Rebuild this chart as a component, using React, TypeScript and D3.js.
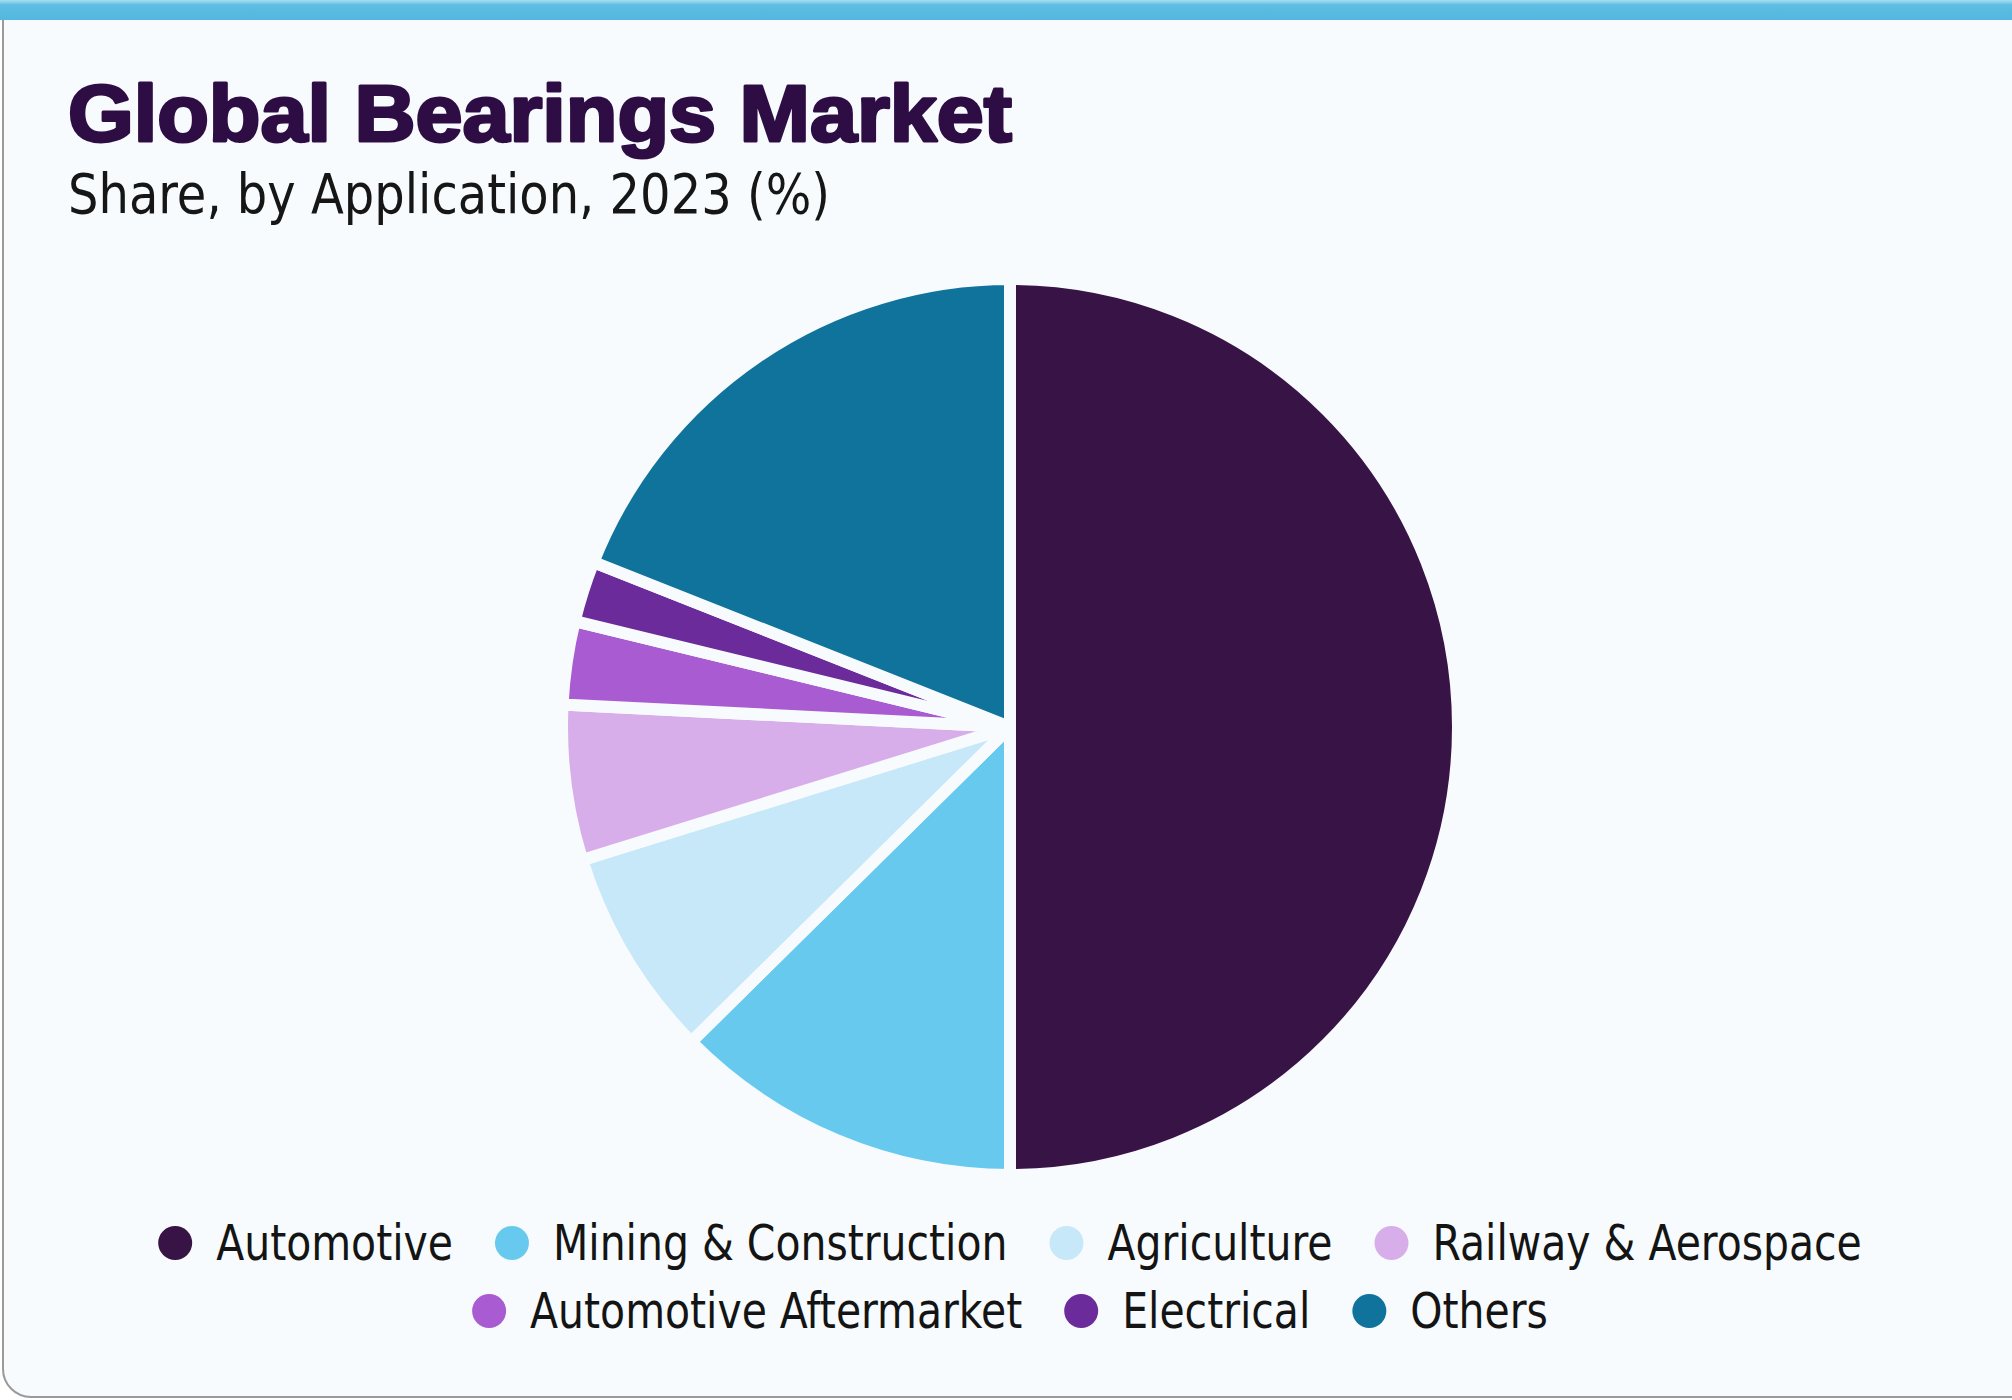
import React, { useEffect, useRef } from "react";
import * as d3 from "d3";

// Market share by application, 2023 (%)
const categories = [
  "Automotive",
  "Mining & Construction",
  "Agriculture",
  "Railway & Aerospace",
  "Automotive Aftermarket",
  "Electrical",
  "Others",
];
const shares = [50.0, 12.6, 7.6, 5.6, 3.0, 2.2, 19.0];
const sliceColors = ["#381346", "#68c9ef", "#c6e8f8", "#d8aeea", "#a95bd2", "#6c2b9a", "#10739b"];
const legendRows = [
  [0, 1, 2, 3],
  [4, 5, 6],
];

const W = 2012;
const H = 1400;

export default function App() {
  const ref = useRef<SVGSVGElement | null>(null);

  useEffect(() => {
    const svg = d3.select(ref.current);
    svg.selectAll("*").remove();

    const defs = svg.append("defs");
    const barGrad = defs
      .append("linearGradient")
      .attr("id", "topbar")
      .attr("x1", 0)
      .attr("y1", 0)
      .attr("x2", 0)
      .attr("y2", 1);
    barGrad.append("stop").attr("offset", "0%").attr("stop-color", "#a9dff2");
    barGrad.append("stop").attr("offset", "25%").attr("stop-color", "#5dbde2");
    barGrad.append("stop").attr("offset", "100%").attr("stop-color", "#55b7de");

    // page + card
    svg.append("rect").attr("width", W).attr("height", H).attr("fill", "#ffffff");
    svg
      .append("rect")
      .attr("x", 3)
      .attr("y", -30)
      .attr("width", W + 30)
      .attr("height", H + 27)
      .attr("rx", 28)
      .attr("fill", "#f7fbfd")
      .attr("stroke", "#9a9a9a")
      .attr("stroke-width", 2);
    svg.append("rect").attr("x", 0).attr("y", 0).attr("width", W).attr("height", 20).attr("fill", "url(#topbar)");

    // titles
    svg
      .append("text")
      .attr("x", 68)
      .attr("y", 141)
      .attr("font-family", "'Liberation Sans', Arial, sans-serif")
      .attr("font-weight", 700)
      .attr("font-size", 80)
      .attr("fill", "#2e0d44")
      .attr("stroke", "#2e0d44")
      .attr("stroke-width", 3)
      .attr("stroke-linejoin", "round")
      .attr("textLength", 944)
      .attr("lengthAdjust", "spacingAndGlyphs")
      .text("Global Bearings Market");

    svg
      .append("text")
      .attr("x", 68)
      .attr("y", 213)
      .attr("font-family", "'Liberation Sans Narrow', 'DejaVu Sans Condensed', sans-serif")
      .attr("font-size", 56)
      .attr("fill", "#161616")
      .attr("textLength", 762)
      .attr("lengthAdjust", "spacingAndGlyphs")
      .text("Share, by Application, 2023 (%)");

    // pie
    const cx = 1010;
    const cy = 727;
    const outerR = 448;
    const pie = d3
      .pie<number>()
      .sort(null)
      .value((d) => d);
    const arc = d3.arc<d3.PieArcDatum<number>>().innerRadius(0).outerRadius(outerR);
    const g = svg.append("g").attr("transform", `translate(${cx},${cy})`);
    g.selectAll("path")
      .data(pie(shares))
      .enter()
      .append("path")
      .attr("d", arc)
      .attr("fill", (_d, i) => sliceColors[i])
      .attr("stroke", "#f7fbfd")
      .attr("stroke-width", 12)
      .attr("stroke-linejoin", "miter");

    // legend
    const legendFont = "'Liberation Sans Narrow', 'DejaVu Sans Condensed', sans-serif";
    const rowY = [1260, 1328];
    const dotR = 17;
    const dotToText = 24;
    const itemGap = 42;
    const squeeze = 0.91;
    legendRows.forEach((row, r) => {
      const lg = svg.append("g");
      let x = 0;
      row.forEach((idx) => {
        const item = lg.append("g").attr("transform", `translate(${x},0)`);
        item
          .append("circle")
          .attr("cx", dotR)
          .attr("cy", rowY[r] - 17)
          .attr("r", dotR)
          .attr("fill", sliceColors[idx]);
        const t = item
          .append("text")
          .attr("x", dotR * 2 + dotToText)
          .attr("y", rowY[r])
          .attr("font-family", legendFont)
          .attr("font-size", 50)
          .attr("fill", "#141414")
          .text(categories[idx]);
        const w = (t.node() as SVGTextElement).getComputedTextLength() * squeeze;
        t.attr("textLength", w).attr("lengthAdjust", "spacingAndGlyphs");
        x += dotR * 2 + dotToText + w + itemGap;
      });
      const total = x - itemGap;
      lg.attr("transform", `translate(${cx - total / 2},0)`);
    });
  }, []);

  return (
    <div style={{ position: "absolute", left: 0, top: 0 }}>
      <svg ref={ref} width={W} height={H} viewBox={`0 0 ${W} ${H}`} style={{ display: "block" }} />
    </div>
  );
}
